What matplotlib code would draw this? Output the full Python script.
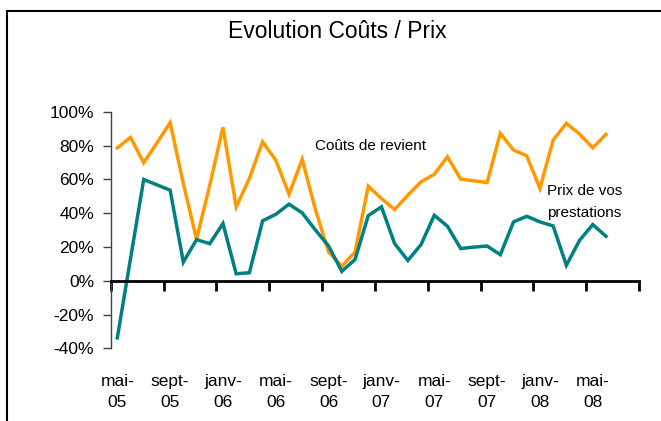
import matplotlib
matplotlib.use("Agg")
import matplotlib.pyplot as plt
from matplotlib.patches import Rectangle
import numpy as np

plt.rcParams['font.family'] = ['Liberation Sans', 'DejaVu Sans']

months = ["mai-05", "juin-05", "juil-05", "août-05", "sept-05", "oct-05", "nov-05", "déc-05",
          "janv-06", "févr-06", "mars-06", "avr-06", "mai-06", "juin-06", "juil-06", "août-06",
          "sept-06", "oct-06", "nov-06", "déc-06", "janv-07", "févr-07", "mars-07", "avr-07",
          "mai-07", "juin-07", "juil-07", "août-07", "sept-07", "oct-07", "nov-07", "déc-07",
          "janv-08", "févr-08", "mars-08", "avr-08", "mai-08", "juin-08", "juil-08", "août-08"]

couts = [78.6, 84.8, 69.8, 81.5, 93.5, 57.5, 24.5, 56.5, 90.7, 43.7,
         60.5, 82.2, 71.3, 51.2, 71.8, 42.0, 17.0, 8.5, 17.0, 55.9,
         48.6, 42.1, 50.6, 58.5, 63.0, 73.3, 60.1, 59.1, 58.1, 87.2,
         77.3, 73.9, 54.6, 83.2, 93.1, 86.8, 78.6, 86.6]

prix = [-33.8, 13.0, 59.9, 56.7, 53.6, 11.0, 24.3, 21.9, 33.8, 4.1,
        4.7, 35.4, 39.3, 45.3, 40.1, 30.0, 20.5, 5.5, 12.6, 38.5,
        43.7, 21.9, 12.0, 21.4, 38.7, 32.2, 19.0, 19.9, 20.5, 15.4,
        34.8, 38.1, 34.8, 32.4, 9.1, 23.9, 33.2, 26.3]

yticks = [-40, -20, 0, 20, 40, 60, 80, 100]

fig = plt.figure(figsize=(6.61, 4.21), dpi=100)
# outer chart frame (cropped on right and bottom)
fig.patches.append(Rectangle((7/661, -0.1), 1.2, (421-11)/421 + 0.1,
                             transform=fig.transFigure, fill=False,
                             edgecolor='black', linewidth=1.5))

ax = fig.add_axes([110.7/661, (421-348.3)/421, 528.3/661, 236.6/421])

x = np.arange(len(couts))
ax.plot(x, couts, color='#FF9900', linewidth=2.5, solid_joinstyle='miter')
ax.plot(np.arange(len(prix)), prix, color='#008080', linewidth=2.5, solid_joinstyle='miter')

ax.set_xlim(-0.5, len(months) - 0.5)
ax.set_ylim(-40, 100)

for s in ['top', 'right']:
    ax.spines[s].set_visible(False)
ax.spines['left'].set_color('#404040')
ax.spines['left'].set_linewidth(1.0)
ax.spines['bottom'].set_position(('data', 0))
ax.spines['bottom'].set_linewidth(2.0)
ax.spines['bottom'].set_color('black')

ax.set_yticks(yticks)
ax.set_yticklabels([f"{v}%" for v in yticks], fontsize=12.5)
ax.tick_params(axis='y', direction='out', length=6, width=1, color='#404040', pad=6)

# tick marks between categories, labels every 4 months at category centre
ax.set_xticks(np.arange(-0.5, len(months), 4))
ax.set_xticklabels([])
ax.tick_params(axis='x', which='major', direction='out', length=7, width=2, color='black')
lab_pos = np.arange(0, len(months), 4)
ax.set_xticks(lab_pos, minor=True)
ax.set_xticklabels([months[i].replace('-', '-\n') for i in lab_pos], minor=True,
                   fontsize=12.5, linespacing=1.5)
ax.tick_params(axis='x', which='minor', length=0, pad=67)

ax.set_facecolor('none')
fig.patch.set_facecolor('white')

fig.text(337/661, 1 - 31/421, "Evolution Coûts / Prix", ha='center', va='center', fontsize=16.5)
ax.text(15.0, 79.5, "Coûts de revient", fontsize=11, ha='left', va='center')
ax.text(32.5, 46.5, "Prix de vos\nprestations", fontsize=11, ha='left', va='center', linespacing=1.75)

fig.savefig("out.png", dpi=100)
